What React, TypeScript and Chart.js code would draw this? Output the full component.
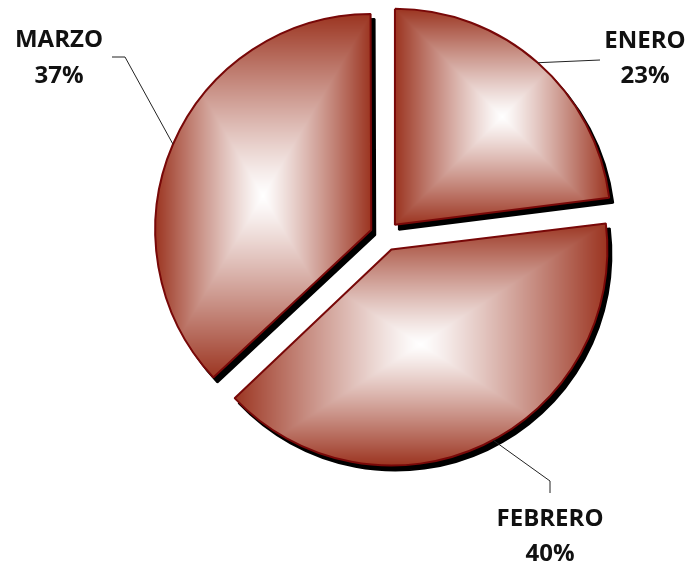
import React, { useEffect, useRef } from "react";
import { Chart, registerables } from "chart.js";

Chart.register(...registerables);

const months = ["ENERO", "FEBRERO", "MARZO"];
const values = [23, 40, 37];

const W = 692;
const H = 566;
const EDGE = [155, 52, 32];
const BORDER = "#780808";
const OFFSET = 60; // Chart.js translates arcs by offset/4
const SHADOW = { dx: 4, dy: 5 };
const RADIUS = 216;

// label layout (text centre x, baselines, leader-line elbow points, anchor fraction along arc)
const labelLayout = [
  { x: 645, y1: 48, y2: 83, path: [[600, 60]], frac: 0.5 },
  { x: 550, y1: 526, y2: 561, path: [[550, 481], [550, 493]], frac: 0.48 },
  { x: 59, y1: 47, y2: 83, path: [[125, 57], [112, 57]], frac: 0.5 },
];

function boxGradient(x0: number, y0: number, x1: number, y1: number) {
  const c = document.createElement("canvas");
  c.width = W;
  c.height = H;
  const g = c.getContext("2d")!;
  const img = g.createImageData(W, H);
  const cx = (x0 + x1) / 2;
  const cy = (y0 + y1) / 2;
  const hw = Math.max((x1 - x0) / 2, 1);
  const hh = Math.max((y1 - y0) / 2, 1);
  const d = img.data;
  for (let y = 0; y < H; y++) {
    for (let x = 0; x < W; x++) {
      let t = Math.min(1, Math.max(Math.abs(x + 0.5 - cx) / hw, Math.abs(y + 0.5 - cy) / hh));
      t = Math.pow(t, 1.15);
      const i = (y * W + x) * 4;
      d[i] = 255 + (EDGE[0] - 255) * t;
      d[i + 1] = 255 + (EDGE[1] - 255) * t;
      d[i + 2] = 255 + (EDGE[2] - 255) * t;
      d[i + 3] = 255;
    }
  }
  g.putImageData(img, 0, 0);
  return c;
}

function fixOf(el: any) {
  return 1 - Math.sin(Math.min(Math.PI, el.circumference || 0));
}

function arcRadius(el: any) {
  return el.outerRadius + (OFFSET / 4) * fixOf(el);
}

function arcDisp(el: any) {
  const mid = (el.startAngle + el.endAngle) / 2;
  return [Math.cos(mid) * (OFFSET / 4), Math.sin(mid) * (OFFSET / 4)];
}

// keep every exploded slice at the same visible radius
const radiusPlugin = {
  id: "evenRadius",
  afterDatasetUpdate(chart: any, args: any) {
    const meta = chart.getDatasetMeta(args.index);
    meta.data.forEach((el: any) => {
      el.outerRadius = RADIUS - (OFFSET / 4) * fixOf(el);
    });
  },
};

const shadowPlugin = {
  id: "sliceShadow",
  beforeDatasetsDraw(chart: any) {
    const ctx = chart.ctx;
    const meta = chart.getDatasetMeta(0);
    meta.data.forEach((el: any) => {
      const o = el.options;
      el.options = Object.assign({}, o, { backgroundColor: "#000", borderColor: "#000" });
      ctx.save();
      ctx.translate(SHADOW.dx, SHADOW.dy);
      el.draw(ctx);
      ctx.restore();
      el.options = o;
    });
  },
};

const labelPlugin = {
  id: "sliceLabels",
  afterDatasetsDraw(chart: any) {
    const ctx = chart.ctx;
    const meta = chart.getDatasetMeta(0);
    const total = values.reduce((a, b) => a + b, 0);
    meta.data.forEach((el: any, i: number) => {
      const L = labelLayout[i];
      const r = arcRadius(el);
      const [dx, dy] = arcDisp(el);
      const a = el.startAngle + (el.endAngle - el.startAngle) * L.frac;
      const px = el.x + dx + Math.cos(a) * r;
      const py = el.y + dy + Math.sin(a) * r;
      ctx.save();
      ctx.strokeStyle = "#222";
      ctx.lineWidth = 1;
      ctx.beginPath();
      ctx.moveTo(px, py);
      L.path.forEach(([x, y]) => ctx.lineTo(x, y));
      ctx.stroke();
      ctx.fillStyle = "#111";
      ctx.font = "bold 24px 'Open Sans'";
      ctx.textAlign = "center";
      ctx.textBaseline = "alphabetic";
      ctx.fillText(months[i], L.x, L.y1);
      ctx.fillText(Math.round((values[i] / total) * 100) + "%", L.x, L.y2);
      ctx.restore();
    });
  },
};

export default function App() {
  const ref = useRef<HTMLCanvasElement>(null);
  useEffect(() => {
    const canvas = ref.current!;
    const patterns: any[] = [];
    const chart = new Chart(canvas, {
      type: "pie",
      data: {
        labels: months,
        datasets: [
          {
            data: values,
            backgroundColor: (c: any) => patterns[c.dataIndex] ?? `rgb(${EDGE.join(",")})`,
            borderColor: BORDER,
            borderWidth: 2,
            offset: OFFSET,
            hoverOffset: OFFSET,
          } as any,
        ],
      },
      options: {
        responsive: false,
        animation: false,
        events: [],
        radius: RADIUS,
        layout: { padding: { left: 78, right: 0, top: 0, bottom: 94 } },
        plugins: { legend: { display: false }, tooltip: { enabled: false } },
      } as any,
      plugins: [radiusPlugin, shadowPlugin, labelPlugin],
    });

    const meta = chart.getDatasetMeta(0);
    meta.data.forEach((el: any, i: number) => {
      const r = arcRadius(el);
      const s = el.startAngle;
      const e = el.endAngle;
      const pts: number[][] = [[el.x, el.y]];
      pts.push([el.x + Math.cos(s) * r, el.y + Math.sin(s) * r]);
      pts.push([el.x + Math.cos(e) * r, el.y + Math.sin(e) * r]);
      for (let k = -8; k <= 8; k++) {
        const a = (k * Math.PI) / 2;
        if (a > s && a < e) pts.push([el.x + Math.cos(a) * r, el.y + Math.sin(a) * r]);
      }
      const xs = pts.map((p) => p[0]);
      const ys = pts.map((p) => p[1]);
      const grad = boxGradient(Math.min(...xs), Math.min(...ys), Math.max(...xs), Math.max(...ys));
      patterns[i] = chart.ctx.createPattern(grad, "no-repeat");
    });
    chart.update();

    return () => chart.destroy();
  }, []);

  return (
    <div style={{ position: "fixed", left: 0, top: 0, width: W, height: H, background: "#fff" }}>
      <canvas ref={ref} width={W} height={H} style={{ display: "block" }} />
    </div>
  );
}
